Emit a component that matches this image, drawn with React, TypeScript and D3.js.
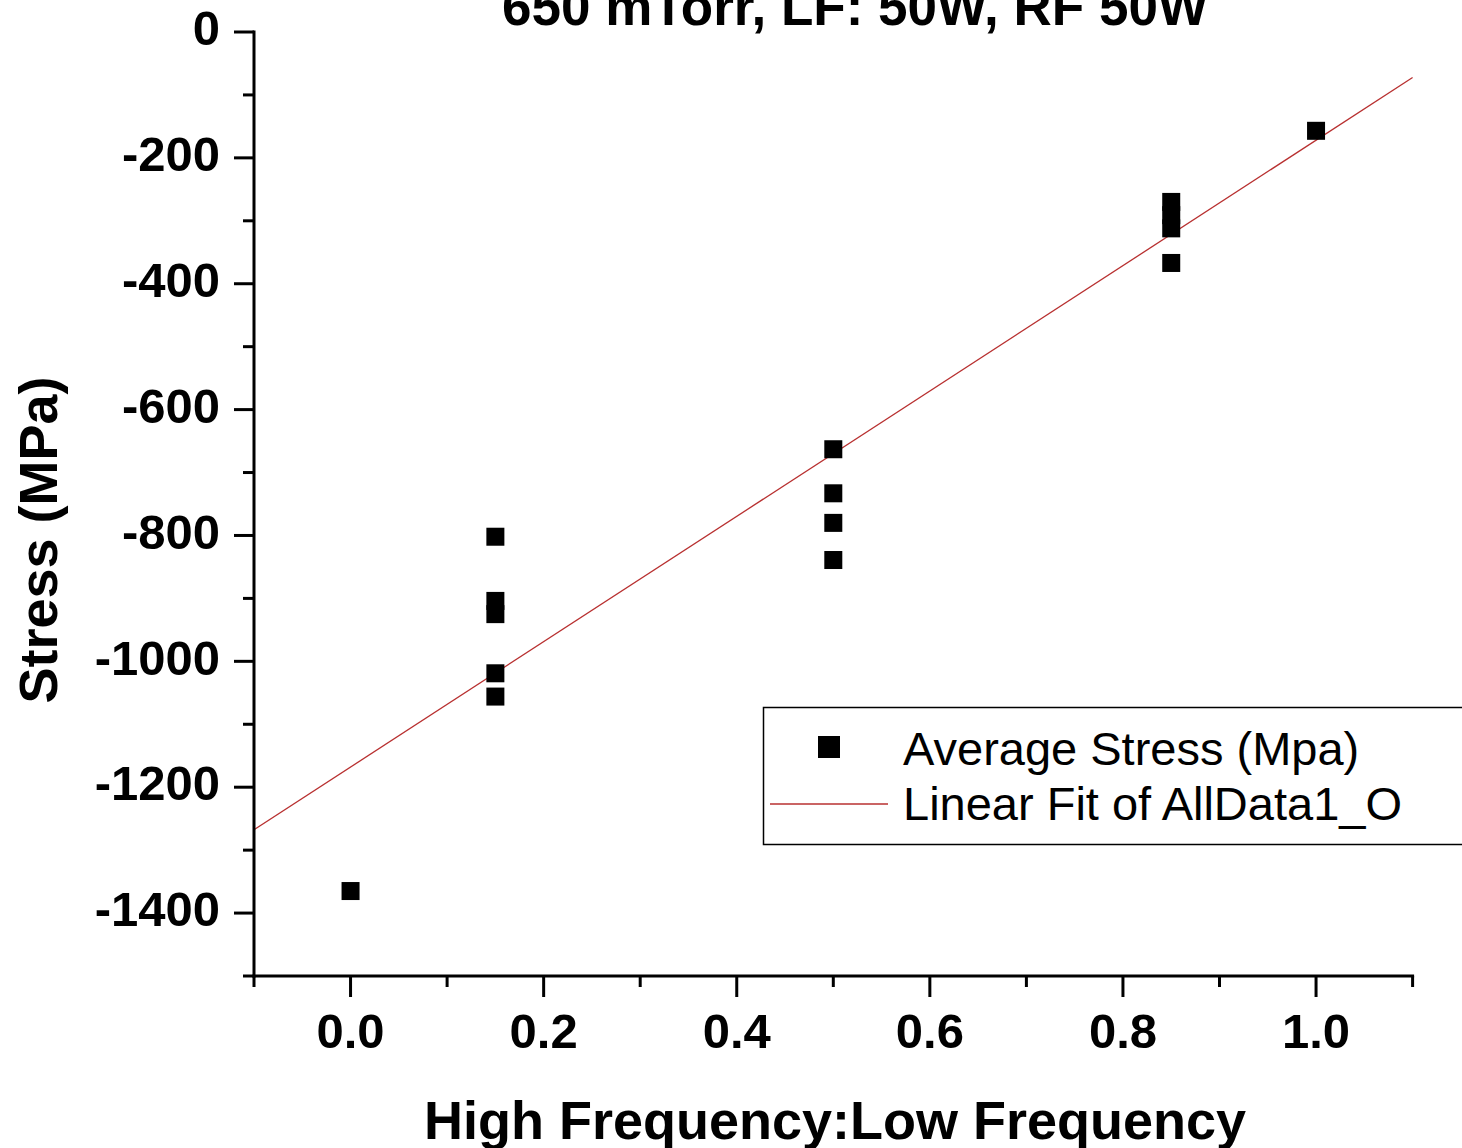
import React from "react";
import * as d3 from "d3";

const ratio = [0, 0.15, 0.15, 0.15, 0.15, 0.15, 0.5, 0.5, 0.5, 0.5, 0.85, 0.85, 0.85, 0.85, 1.0];
const stress = [-1365, -802, -904, -925, -1019, -1056, -663, -733, -780, -839, -270, -291, -312, -367, -157];
const fitIntercept = -1168;
const fitSlope = 996;
const xMajorTicks = [0, 0.2, 0.4, 0.6, 0.8, 1.0];
const xMinorTicks = [-0.1, 0.1, 0.3, 0.5, 0.7, 0.9, 1.1];
const yMajorTicks = [0, -200, -400, -600, -800, -1000, -1200, -1400];
const yMinorTicks = [-100, -300, -500, -700, -900, -1100, -1300, -1500];
const titleText = "650 mTorr, LF: 50W, RF 50W";
const xTitle = "High Frequency:Low Frequency";
const yTitle = "Stress (MPa)";
const legendLabels = ["Average Stress (Mpa)", "Linear Fit of AllData1_O"];

const W = 1462, H = 1148;
const L = 254, R = 1412.6, T = 32, B = 976;
const FONT = "'Liberation Sans', Arial, Helvetica, sans-serif";
const FIT_COLOR = "#b83030";

export default function App() {
  const x = d3.scaleLinear().domain([-0.1, 1.1]).range([L, R]);
  const y = d3.scaleLinear().domain([-1500, 0]).range([B, T]);
  const fitLine = d3.line<number>().x((d) => x(d)).y((d) => y(fitIntercept + fitSlope * d));
  const fmtX = d3.format(".1f");
  const sq = 18;

  return (
    <div style={{ position: "absolute", left: 0, top: 0 }}>
      <svg width={W} height={H} style={{ display: "block", background: "#fff" }} fontFamily={FONT}>
        <rect x={0} y={0} width={W} height={H} fill="#fff" />
        {/* title (cut off at the top, as in the original) */}
        <text x={855} y={25} textAnchor="middle" fontSize={53} fontWeight="bold" fill="#000">{titleText}</text>

        {/* fit line */}
        <path d={fitLine([-0.1, 1.1]) || ""} stroke={FIT_COLOR} strokeWidth={1.3} fill="none" />

        {/* data points */}
        {ratio.map((r, i) => (
          <rect key={i} x={x(r) - sq / 2} y={y(stress[i]) - sq / 2} width={sq} height={sq} fill="#000" />
        ))}

        {/* y axis */}
        <line x1={L} x2={L} y1={T - 1.5} y2={B + 1.5} stroke="#000" strokeWidth={3} />
        {yMajorTicks.map((t) => (
          <g key={"ym" + t}>
            <line x1={L - 20} x2={L} y1={y(t)} y2={y(t)} stroke="#000" strokeWidth={3} />
            <text x={220} y={y(t)} dy="0.27em" textAnchor="end" fontSize={49} fontWeight="bold" fill="#000">{String(t)}</text>
          </g>
        ))}
        {yMinorTicks.map((t) => (
          <line key={"yn" + t} x1={L - 11} x2={L} y1={y(t)} y2={y(t)} stroke="#000" strokeWidth={3} />
        ))}

        {/* x axis */}
        <line x1={L - 1.5} x2={R + 1.5} y1={B} y2={B} stroke="#000" strokeWidth={3} />
        {xMajorTicks.map((t) => (
          <g key={"xm" + t}>
            <line x1={x(t)} x2={x(t)} y1={B} y2={B + 21} stroke="#000" strokeWidth={3} />
            <text x={x(t)} y={1048} textAnchor="middle" fontSize={49} fontWeight="bold" fill="#000">{fmtX(t)}</text>
          </g>
        ))}
        {xMinorTicks.map((t) => (
          <line key={"xn" + t} x1={x(t)} x2={x(t)} y1={B} y2={B + 11} stroke="#000" strokeWidth={3} />
        ))}

        {/* axis titles */}
        <text x={835} y={1139} textAnchor="middle" fontSize={54} fontWeight="bold" fill="#000">{xTitle}</text>
        <text transform="translate(57,540) rotate(-90)" textAnchor="middle" fontSize={54} fontWeight="bold" fill="#000">{yTitle}</text>

        {/* legend */}
        <rect x={763.5} y={707.5} width={720} height={137} fill="#fff" stroke="#000" strokeWidth={1.5} />
        <rect x={818} y={736} width={22} height={22} fill="#000" />
        <text x={903} y={765} fontSize={47} fill="#000">{legendLabels[0]}</text>
        <line x1={770} x2={888} y1={804} y2={804} stroke={FIT_COLOR} strokeWidth={1.3} />
        <text x={903} y={820} fontSize={47} fill="#000">{legendLabels[1]}</text>
      </svg>
    </div>
  );
}
